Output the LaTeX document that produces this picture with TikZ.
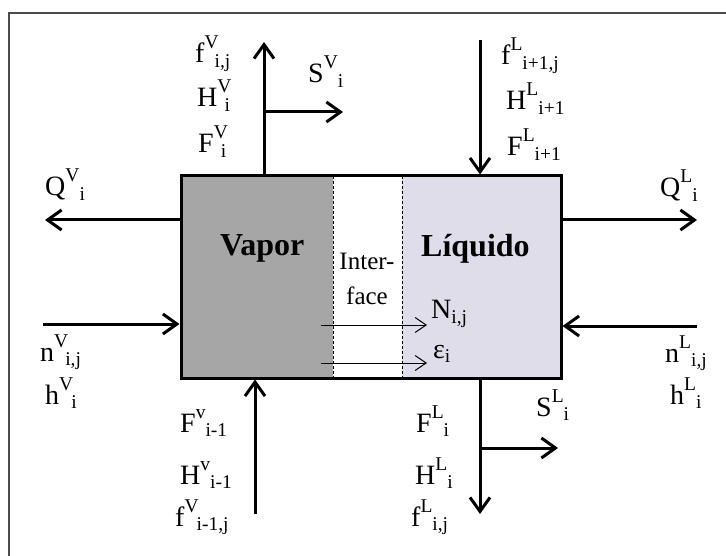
\documentclass[tikz,border=0pt]{standalone}
\usepackage{fontspec}
\setmainfont{Liberation Serif}
\usetikzlibrary{arrows.meta}
\definecolor{vaporgray}{RGB}{166,166,166}
\definecolor{liquidlilac}{RGB}{224,221,235}
\newcommand{\streamvar}[4][0pt]{#2\raisebox{0.5em}{\fontsize{19.5}{19.5}\selectfont #3}\kern#1\raisebox{-0.17em}{\fontsize{19.5}{19.5}\selectfont #4}}

\begin{document}
\begin{tikzpicture}[x=1pt, y=-1pt, >={Straight Barb[length=14pt,width=20pt]},
  stream/.style={->, line width=3pt},
  flux/.style={->, line width=1pt, >={Straight Barb[length=11pt,width=15pt]}},
  var/.style={anchor=base west, inner sep=0pt, font=\fontsize{28}{30}\selectfont},
  phase/.style={anchor=base west, inner sep=0pt, font=\fontsize{32}{34}\selectfont\bfseries},
  iface/.style={anchor=base, inner sep=0pt, font=\fontsize{25}{27}\selectfont}]
\useasboundingbox (0,0) rectangle (726,556);
% frame
\draw[line width=1.4pt, black!70] (9,556) -- (9,13) -- (726,13);
% stage: vapour | interface | liquid
\fill[vaporgray] (181,176) rectangle (333,378);
\fill[liquidlilac] (402,176) rectangle (561,378);
\draw[line width=0.9pt, dash pattern=on 3pt off 2pt] (333,176) -- (333,378) (402,176) -- (402,378);
\node[draw, line width=3pt, minimum width=380pt, minimum height=202pt, inner sep=0pt] (cell) at (371,277) {};
\node[phase] (vapor) at (220,256) {Vapor};
\node[phase] (liquid) at (421,257) {Líquido};
\node[iface] (inter) at (367,270) {Inter-};
\node[iface] (face) at (367,305) {face};
% vapour leaving on top
\coordinate (vout) at (264,42);
\coordinate (svout) at (343,112);
\draw[stream] (cell.north -| vout) -- (vout);
\draw[stream] (vout |- svout) -- (svout);
\node[var] (fvij) at (195,63) {\streamvar[-4pt]{f}{V}{i,j}};
\node[var] (hvi) at (197,107) {\streamvar[-7pt]{H}{V}{i}};
\node[var] (bfvi) at (198,153) {\streamvar[-7pt]{F}{V}{i}};
\node[var] (svi) at (308,83) {\streamvar{S}{V}{i}};
% liquid entering on top
\coordinate (lin) at (480,40);
\draw[stream] (lin) -- (cell.north -| lin);
\node[var] (flij) at (501,65) {\streamvar{f}{L}{i+1,j}};
\node[var] (hli) at (506,110) {\streamvar{H}{L}{i+1}};
\node[var] (bfli) at (507,156) {\streamvar{F}{L}{i+1}};
% heat
\coordinate (qvout) at (45,220);
\coordinate (qlout) at (697,220);
\draw[stream] (cell.west |- qvout) -- (qvout);
\draw[stream] (cell.east |- qlout) -- (qlout);
\node[var] (qvi) at (45,196) {\streamvar{Q}{V}{i}};
\node[var] (qli) at (660,197) {\streamvar{Q}{L}{i}};
% feeds
\coordinate (nvin) at (43,324);
\coordinate (nlin) at (697,326);
\draw[stream] (nvin) -- (cell.west |- nvin);
\draw[stream] (nlin) -- (cell.east |- nlin);
\node[var] (nvij) at (40,361) {\streamvar[-3pt]{n}{V}{i,j}};
\node[var] (shvi) at (45,404) {\streamvar[-2pt]{h}{V}{i}};
\node[var] (nlij) at (665,362) {\streamvar{n}{L}{i,j}};
\node[var] (shli) at (670,404) {\streamvar{h}{L}{i}};
% vapour entering below
\coordinate (vin) at (255,514);
\draw[stream] (vin) -- (cell.south -| vin);
\node[var] (bfvim) at (180,432) {\streamvar{F}{v}{i-1}};
\node[var] (hvim) at (180,484) {\streamvar{H}{v}{i-1}};
\node[var] (fvimj) at (175,526) {\streamvar[-2pt]{f}{V}{i-1,j}};
% liquid leaving below
\coordinate (lout) at (480,514);
\coordinate (slout) at (558,448);
\draw[stream] (cell.south -| lout) -- (lout);
\draw[stream] (lout |- slout) -- (slout);
\node[var] (bfl) at (416,432) {\streamvar{F}{L}{i}};
\node[var] (hl) at (415,484) {\streamvar{H}{L}{i}};
\node[var] (flj) at (411,526) {\streamvar{f}{L}{i,j}};
\node[var] (sli) at (536,416) {\streamvar{S}{L}{i}};
% transfer through the interface
\coordinate (nstart) at (321,325);
\coordinate (nend) at (427,325);
\coordinate (estart) at (321,363);
\coordinate (eend) at (427,363);
\draw[flux] (nstart) -- (nend);
\draw[flux] (estart) -- (eend);
\node[var] (nij) at (431,319) {N\raisebox{-0.17em}{\fontsize{19.5}{19.5}\selectfont i,j}};
\node[var] (epsi) at (433,358) {ε\raisebox{-0.17em}{\fontsize{19.5}{19.5}\selectfont i}};
\end{tikzpicture}
\end{document}
